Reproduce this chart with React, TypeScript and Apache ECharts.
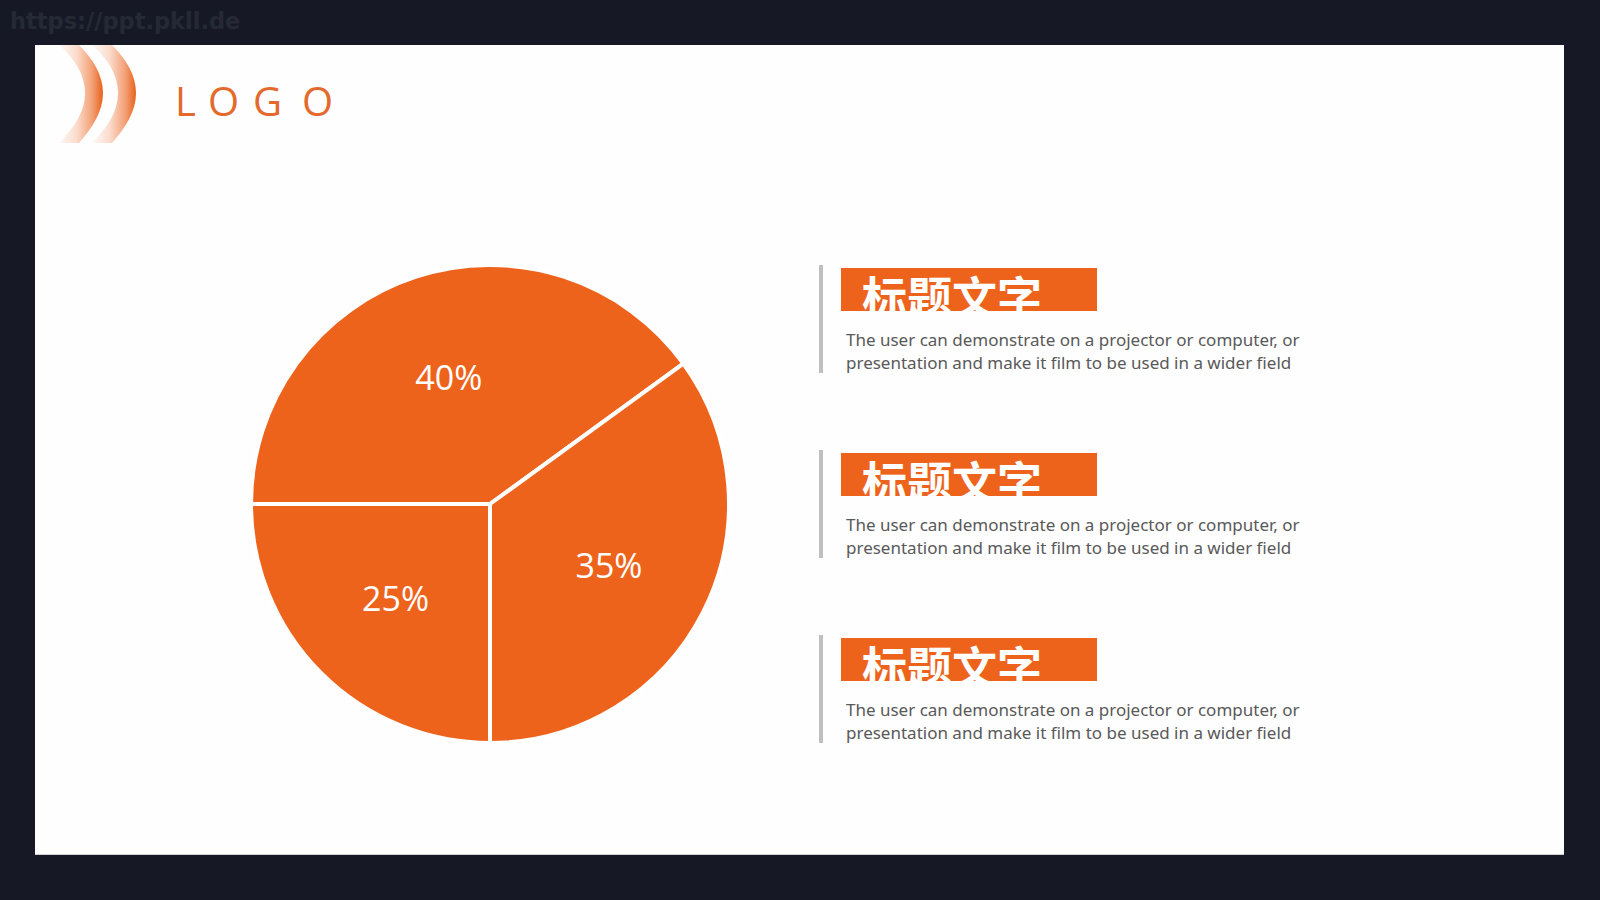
import React, { useEffect, useRef } from "react";
import * as echarts from "echarts";

const segmentNames = ["部分一", "部分二", "部分三"];
const shares = [40, 35, 25];
const titles = ["标题文字", "标题文字", "标题文字"];
const descriptions = [
  "The user can demonstrate on a projector or computer, or\npresentation and make it film to be used in a wider field",
  "The user can demonstrate on a projector or computer, or\npresentation and make it film to be used in a wider field",
  "The user can demonstrate on a projector or computer, or\npresentation and make it film to be used in a wider field",
];
const logoLetters = ["L", "O", "G", "O"];
const watermark = "https://ppt.pkll.de";

const ORANGE = "#EE631C";
const CHEVRON_D =
  "M24 0 C38 14 48 30 48 48 C48 66 38 82 24 98 L4 98 C20 82 30 66 30 48 C30 30 20 14 4 0 Z";

let registered = false;
function registerShapes() {
  if (registered) return;
  echarts.graphic.registerShape("chevron", echarts.graphic.extendPath(CHEVRON_D, {}));
  registered = true;
}

export default function App() {
  const ref = useRef<HTMLDivElement>(null);
  useEffect(() => {
    if (!ref.current) return;
    registerShapes();
    const chart = echarts.init(ref.current, undefined, { renderer: "svg" });
    const data = shares.map((v, i) => ({ name: segmentNames[i], value: v }));

    const chevronFill = {
      type: "linear",
      x: 0,
      y: 0,
      x2: 1,
      y2: 0,
      colorStops: [
        { offset: 0, color: "rgba(238,99,29,0.03)" },
        { offset: 0.4, color: "rgba(238,99,29,0.22)" },
        { offset: 0.75, color: "rgba(236,99,29,0.6)" },
        { offset: 1, color: "rgba(230,98,28,1)" },
      ],
    };

    const graphics: any[] = [
      {
        type: "text",
        x: 10,
        y: 21,
        style: {
          text: watermark,
          fill: "#252935",
          font: "bold 22.5px 'DejaVu Sans'",
          verticalAlign: "middle",
        },
      },
      { type: "chevron", x: 55, y: 45, style: { fill: chevronFill } },
      { type: "chevron", x: 88, y: 45, style: { fill: chevronFill } },
    ];
    const logoX = [175, 208, 253, 302];
    logoLetters.forEach((ch, i) => {
      graphics.push({
        type: "text",
        x: logoX[i],
        y: 100,
        style: {
          text: ch,
          fill: "#E4692C",
          font: "40px 'Open Sans'",
          verticalAlign: "middle",
        },
      });
    });
    const blockTop = [268, 453, 638];
    titles.forEach((t, i) => {
      const y0 = blockTop[i];
      graphics.push({
        type: "rect",
        shape: { x: 819, y: y0 - 3, width: 4, height: 108 },
        style: { fill: "#BFBFBF" },
      });
      graphics.push({
        type: "rect",
        shape: { x: 841, y: y0, width: 256, height: 43 },
        style: { fill: ORANGE },
      });
      graphics.push({
        type: "text",
        x: 862,
        y: y0 + 5,
        style: {
          text: t,
          fill: "#FFFFFF",
          font: "bold 45px 'Noto Sans CJK SC'",
          verticalAlign: "top",
        },
      });
      graphics.push({
        type: "rect",
        shape: { x: 841, y: y0 + 43, width: 256, height: 16 },
        style: { fill: "#FEFEFE" },
      });
      graphics.push({
        type: "text",
        x: 846,
        y: y0 + 60,
        style: {
          text: descriptions[i],
          fill: "#595959",
          font: "17px 'Noto Sans'",
          lineHeight: 23,
          verticalAlign: "top",
        },
      });
    });

    chart.setOption({
      animation: false,
      backgroundColor: "transparent",
      graphic: { elements: graphics },
      series: [
        {
          type: "pie",
          center: [490, 504],
          radius: [0, 239],
          startAngle: 180,
          clockwise: true,
          silent: true,
          label: { show: false },
          labelLine: { show: false },
          itemStyle: { color: ORANGE, borderColor: "#FFFFFF", borderWidth: 4 },
          data,
        },
        {
          type: "pie",
          center: [490, 504],
          radius: [0, 261],
          startAngle: 180,
          clockwise: true,
          silent: true,
          z: 5,
          itemStyle: { color: "rgba(0,0,0,0)" },
          label: {
            show: true,
            position: "inside",
            formatter: "{c}%",
            color: "#FFFFFF",
            fontSize: 34,
            fontFamily: "'Open Sans'",
          },
          labelLine: { show: false },
          data,
        },
      ],
    });
    return () => chart.dispose();
  }, []);

  return (
    <div
      style={{
        position: "fixed",
        left: 0,
        top: 0,
        width: 1600,
        height: 900,
        background: "#161925",
      }}
    >
      <div
        style={{
          position: "absolute",
          left: 35,
          top: 45,
          width: 1529,
          height: 809,
          background: "#FEFEFE",
          boxShadow: "0 1px 0 #D0D0D0",
        }}
      />
      <div ref={ref} style={{ position: "absolute", left: 0, top: 0, width: 1600, height: 900 }} />
    </div>
  );
}
